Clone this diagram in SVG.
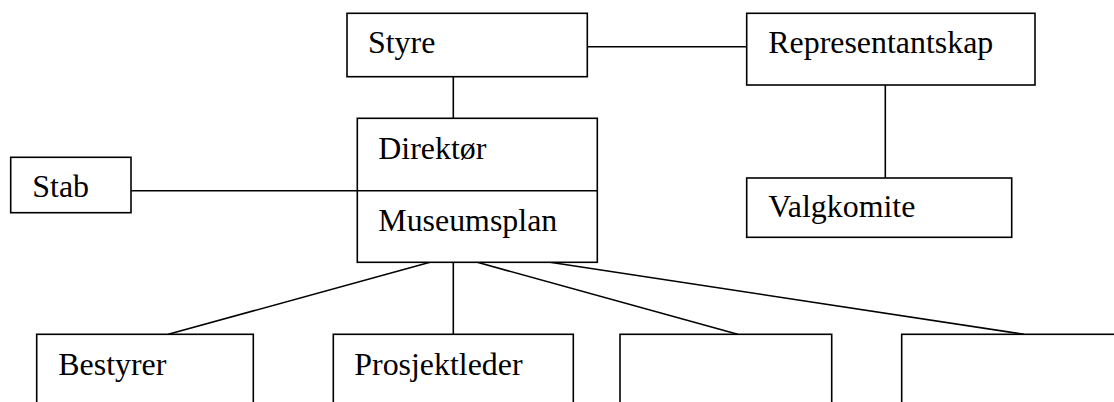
<svg xmlns="http://www.w3.org/2000/svg" width="1114" height="402" viewBox="0 0 1114 402">
<style>
.box{fill:#fff;stroke:#000;stroke-width:1.6}
.ln{stroke:#000;stroke-width:1.6;fill:none}
text{font-family:"Liberation Serif","Times New Roman",serif;font-size:31.9px;fill:#000}
</style>
<rect width="1114" height="402" fill="#fff"/>
<g id="connectors">
<line class="ln" x1="453.3" y1="77" x2="453.3" y2="118.3"/>
<line class="ln" x1="587.3" y1="46.7" x2="746.7" y2="46.7"/>
<line class="ln" x1="885.3" y1="85" x2="885.3" y2="178"/>
<line class="ln" x1="131" y1="190.7" x2="357.3" y2="190.7"/>
<line class="ln" x1="430" y1="262.3" x2="168.3" y2="334.3"/>
<line class="ln" x1="453.3" y1="262.3" x2="453.3" y2="334.3"/>
<line class="ln" x1="477.3" y1="262.3" x2="737.7" y2="334.3"/>
<line class="ln" x1="550" y1="262.3" x2="1024" y2="334.3"/>
</g>
<g id="styre">
<rect class="box" x="347" y="13.3" width="240.3" height="63.4"/>
<text x="368" y="53.3">Styre</text>
</g>
<g id="representantskap">
<rect class="box" x="746.7" y="13.3" width="288.3" height="71.7"/>
<text x="768.3" y="53.3">Representantskap</text>
</g>
<g id="direktor">
<rect class="box" x="357.3" y="118.3" width="240" height="144"/>
<line class="ln" x1="357.3" y1="190.7" x2="597.3" y2="190.7"/>
<text x="378.3" y="159.3">Direktør</text>
<text x="378.3" y="230.7">Museumsplan</text>
</g>
<g id="stab">
<rect class="box" x="10.7" y="157.3" width="120.3" height="55.4"/>
<text x="32.3" y="196.7">Stab</text>
</g>
<g id="valgkomite">
<rect class="box" x="746.7" y="178" width="265" height="59.3"/>
<text x="768.3" y="216.7">Valgkomite</text>
</g>
<g id="bestyrer">
<rect class="box" x="36.7" y="334.3" width="216.6" height="80"/>
<text x="58.3" y="375">Bestyrer</text>
</g>
<g id="prosjektleder">
<rect class="box" x="333.3" y="334.3" width="240" height="80"/>
<text x="354.3" y="374.5">Prosjektleder</text>
</g>
<g id="box3">
<rect class="box" x="620" y="334.3" width="211.7" height="80"/>
</g>
<g id="box4">
<rect class="box" x="901.7" y="334.3" width="240" height="80"/>
</g>
</svg>
